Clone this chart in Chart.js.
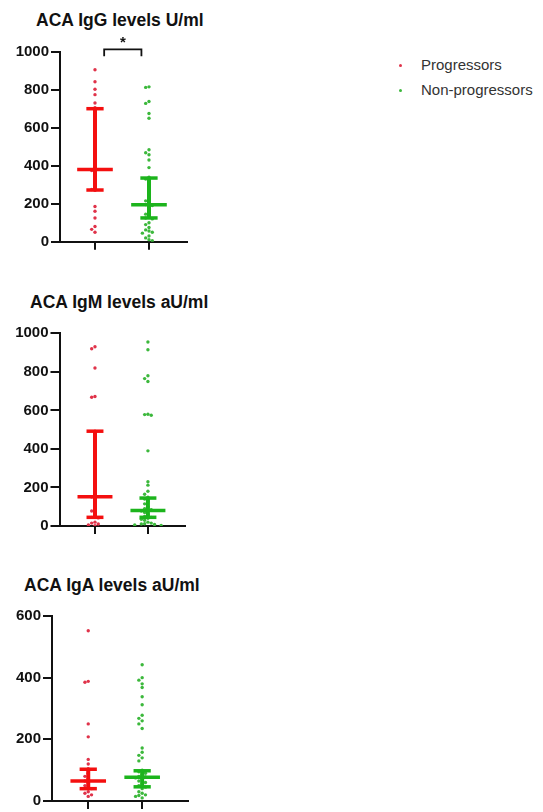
<!DOCTYPE html>
<html>
<head>
<meta charset="utf-8">
<script src="https://cdn.jsdelivr.net/npm/chart.js@4.4.1/dist/chart.umd.min.js"></script>
<style>
  body { margin:0; background:#fff; width:543px; height:812px; position:relative; overflow:hidden;
         font-family:"Liberation Sans", Arial, sans-serif; }
  canvas { position:absolute; left:0; }
  .title { position:absolute; font-size:17.5px; font-weight:bold; color:#111; white-space:nowrap; line-height:1; }
  .legend { position:absolute; left:396px; top:56px; font-size:15px; color:#333; }
  .legend div { height:25px; line-height:18px; position:relative; padding-left:25px; }
  .legend span { position:absolute; left:3px; top:8px; width:3px; height:3px; border-radius:50%; }
</style>
</head>
<body>
<div class="title" style="left:36px;top:12px">ACA IgG levels U/ml</div>
<div class="title" style="left:30px;top:294px">ACA IgM levels aU/ml</div>
<div class="title" style="left:24px;top:577px">ACA IgA levels aU/ml</div>
<div class="legend" id="legend"></div>
<canvas id="c1" width="230" height="262" style="top:0"></canvas>
<canvas id="c2" width="230" height="266" style="top:280px"></canvas>
<canvas id="c3" width="230" height="252" style="top:560px"></canvas>
<script>
// groups
const groups = ['Progressors', 'Non-progressors'];
const dotColors = ['#e0334a', '#3cb83c'];
const barColors = ['#f40f0f', '#1cb41c'];

// ACA IgG (U/ml)
const progIgG = [905, 842, 802, 774, 730, 705, 640, 560, 418, 385, 375, 290, 275, 270, 185, 160, 125, 80, 65, 50];
const nonIgG = [815, 812, 738, 728, 675, 650, 484, 468, 458, 430, 390, 340, 330, 232, 215, 200, 195, 190, 180, 160,
                145, 130, 125, 120, 100, 90, 75, 62, 56, 50, 45, 30, 20, 10, 5];
const medIgG = [380, 195];
const q1IgG = [272, 125];
const q3IgG = [700, 335];

// ACA IgM (aU/ml)
const progIgM = [930, 920, 820, 672, 668, 492, 300, 155, 150, 82, 78, 48, 45, 42, 20, 15, 10, 5, 2];
const nonIgM = [955, 915, 780, 765, 750, 580, 578, 575, 390, 230, 212, 180, 165, 150, 140, 130, 115, 100, 90, 85,
                80, 78, 70, 60, 50, 45, 40, 35, 30, 20, 15, 12, 10, 8, 5, 3];
const medIgM = [152, 80];
const q1IgM = [45, 45];
const q3IgM = [492, 145];

// ACA IgA (aU/ml)
const progIgA = [552, 388, 385, 250, 208, 135, 120, 105, 90, 80, 72, 65, 60, 50, 45, 40, 30, 25, 20, 15];
const nonIgA = [442, 400, 392, 380, 368, 338, 312, 278, 268, 260, 250, 235, 172, 158, 148, 140, 130, 100, 95, 90,
                85, 80, 78, 75, 70, 65, 60, 55, 50, 45, 40, 30, 25, 20, 18, 15, 10];
const medIgA = [65, 77];
const q1IgA = [40, 46];
const q3IgA = [103, 98];

const yTicksIg = [0, 200, 400, 600, 800, 1000];
const yTicksIgA = [0, 200, 400, 600];

const FONT = '"Liberation Sans", Arial, sans-serif';

// legend
document.getElementById('legend').innerHTML = groups.map((g, i) =>
  `<div><span style="background:${dotColors[i]}"></span>${g}</div>`).join('');

// spread dots sideways so they don't overlap (like a scatter dot plot)
function swarm(values, center, pxPerUnitY, pxPerUnitX) {
  const placed = [];
  const step = 3.3;
  const out = [];
  values.slice().sort((a, b) => b - a).forEach(v => {
    const py = v * pxPerUnitY;
    let k = 0, off = 0;
    while (true) {
      off = (k % 2 === 0 ? 1 : -1) * Math.ceil(k / 2) * step;
      const hit = placed.some(p => Math.abs(p.px - off) < step && Math.abs(p.py - py) < step);
      if (!hit) break;
      k++;
    }
    placed.push({ px: off, py: py });
    out.push({ x: center + off / pxPerUnitX, y: v });
  });
  return out;
}

const errorBars = {
  id: 'errorBars',
  afterDatasetsDraw(chart, args, o) {
    const { ctx, scales: { x, y } } = chart;
    ctx.save();
    ctx.lineCap = 'butt';
    o.med.forEach((m, i) => {
      const c = i + 1;
      ctx.strokeStyle = barColors[i];
      ctx.lineWidth = 4;
      ctx.beginPath();
      ctx.moveTo(x.getPixelForValue(c), y.getPixelForValue(o.q1[i]));
      ctx.lineTo(x.getPixelForValue(c), y.getPixelForValue(o.q3[i]));
      ctx.stroke();
      ctx.lineWidth = 3.5;
      [o.q1[i], o.q3[i]].forEach(q => {
        ctx.beginPath();
        ctx.moveTo(x.getPixelForValue(c - 0.16), y.getPixelForValue(q));
        ctx.lineTo(x.getPixelForValue(c + 0.16), y.getPixelForValue(q));
        ctx.stroke();
      });
      ctx.beginPath();
      ctx.moveTo(x.getPixelForValue(c - 0.33), y.getPixelForValue(m));
      ctx.lineTo(x.getPixelForValue(c + 0.33), y.getPixelForValue(m));
      ctx.stroke();
    });
    if (o.sig) {
      const s = o.sig;
      const x1 = x.getPixelForValue(s.from), x2 = x.getPixelForValue(s.to);
      const yy = y.getPixelForValue(s.y), yd = y.getPixelForValue(s.y - s.drop);
      ctx.strokeStyle = '#111';
      ctx.lineWidth = 1.8;
      ctx.beginPath();
      ctx.moveTo(x1, yd); ctx.lineTo(x1, yy); ctx.lineTo(x2, yy); ctx.lineTo(x2, yd);
      ctx.stroke();
      ctx.fillStyle = '#111';
      ctx.font = 'bold 15px ' + FONT;
      ctx.textAlign = 'center';
      ctx.textBaseline = 'middle';
      ctx.fillText(s.label, (x1 + x2) / 2, yy - 7);
    }
    ctx.restore();
  }
};

function panel(id, series, stats, yMax, ticks, L) {
  const cv = document.getElementById(id);
  const W = cv.width, H = cv.height;
  const pxY = (L.bottom - L.top) / yMax;
  const pxX = (L.right - L.left) / (L.xMax - L.xMin);
  new Chart(cv, {
    type: 'scatter',
    data: {
      datasets: series.map((vals, i) => ({
        label: groups[i],
        data: swarm(vals, i + 1, pxY, pxX),
        backgroundColor: dotColors[i],
        borderWidth: 0,
        pointRadius: 1.7
      }))
    },
    options: {
      responsive: false,
      animation: false,
      events: [],
      layout: { padding: { top: L.top, left: 0, right: W - L.right, bottom: 0 } },
      plugins: { legend: { display: false }, tooltip: { enabled: false }, errorBars: stats },
      scales: {
        x: {
          type: 'linear', min: L.xMin, max: L.xMax,
          afterBuildTicks: s => { s.ticks = [{ value: 1 }, { value: 2 }]; },
          afterFit: s => { s.height = H - L.bottom; },
          ticks: { callback: () => '' },
          grid: { drawOnChartArea: false, tickLength: 8, color: '#111', lineWidth: 2 },
          border: { color: '#111', width: 2 }
        },
        y: {
          min: 0, max: yMax,
          afterBuildTicks: s => { s.ticks = ticks.map(v => ({ value: v })); },
          afterFit: s => { s.width = L.left; },
          ticks: { color: '#111', padding: 2, callback: v => String(v),
                   font: { family: FONT, size: 15, weight: 'bold' } },
          grid: { drawOnChartArea: false, tickLength: 9, color: '#111', lineWidth: 2 },
          border: { color: '#111', width: 2 }
        }
      }
    },
    plugins: [errorBars]
  });
}

panel('c1', [progIgG, nonIgG],
  { med: medIgG, q1: q1IgG, q3: q3IgG, sig: { from: 1.17, to: 1.86, y: 1012, drop: 36, label: '*' } },
  1000, yTicksIg, { left: 60, right: 187, top: 51.7, bottom: 241.7, xMin: 0.352, xMax: 2.704 });
panel('c2', [progIgM, nonIgM], { med: medIgM, q1: q1IgM, q3: q3IgM },
  1000, yTicksIg, { left: 59.5, right: 185, top: 53.3, bottom: 246, xMin: 0.33, xMax: 2.70 });
panel('c3', [progIgA, nonIgA], { med: medIgA, q1: q1IgA, q3: q3IgA },
  600, yTicksIgA, { left: 52, right: 188, top: 56, bottom: 246, xMin: 0.328, xMax: 2.85 });
</script>
</body>
</html>
